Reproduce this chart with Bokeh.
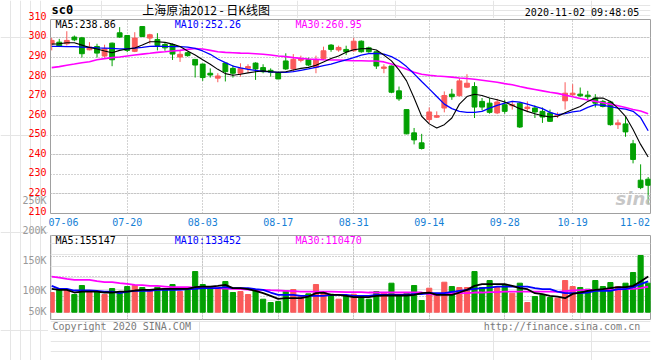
from bokeh.plotting import figure
from bokeh.models import Range1d, FixedTicker, Label, Grid, ColumnDataSource, CustomJSTickFormatter
from bokeh.layouts import column, row
from bokeh.embed import file_html
from bokeh.resources import INLINE

# ---------------- data ----------------
tick_idx = [0, 10, 20, 30, 40, 50, 60, 69, 79]
tick_labels = ["07-06", "07-20", "08-03", "08-17", "08-31", "09-14", "09-28", "10-19", "11-02"]
price_ticks = [210, 220, 230, 240, 250, 260, 270, 280, 290, 300, 310]

opens = [296.8, 297.6, 296.8, 300.2, 299.8, 293.7, 295.4, 290.5, 297.1, 302.4,
         301.0, 292.9, 305.6, 299.7, 299.0, 296.4, 296.4, 290.0, 292.2, 288.8,
         286.4, 281.7, 279.2, 286.9, 284.2, 281.7, 284.2, 286.9, 284.6, 283.2,
         282.0, 288.0, 283.9, 288.3, 288.8, 284.7, 289.3, 296.1, 293.6, 293.9,
         293.2, 298.1, 294.7, 292.7, 284.2, 285.4, 272.7, 263.1, 251.2, 246.1,
         258.0, 259.2, 263.9, 271.0, 270.2, 274.6, 274.9, 267.3, 266.4, 261.4,
         265.6, 265.1, 266.4, 263.6, 263.9, 262.2, 261.4, 260.0, 267.6, 270.7,
         271.0, 270.5, 269.0, 267.3, 267.0, 255.4, 255.8, 245.6, 227.0, 227.5]
highs = [299.8, 299.3, 303.2, 301.0, 300.3, 297.6, 296.8, 296.3, 297.4, 305.3,
         301.2, 302.7, 305.8, 301.9, 302.2, 297.5, 296.9, 293.7, 292.7, 288.8,
         286.6, 284.2, 281.7, 287.0, 285.9, 286.8, 286.3, 287.3, 286.3, 284.2,
         282.5, 291.9, 291.5, 290.7, 289.7, 290.7, 295.3, 296.6, 295.8, 295.8,
         299.8, 298.5, 295.3, 292.9, 286.3, 285.6, 274.9, 263.1, 253.7, 250.7,
         264.2, 262.2, 272.4, 273.7, 279.2, 281.2, 277.1, 269.0, 269.0, 268.6,
         268.1, 267.6, 266.9, 267.3, 265.3, 264.2, 263.1, 261.7, 277.1, 276.1,
         274.4, 272.7, 271.0, 268.1, 267.6, 258.0, 259.3, 247.6, 235.1, 228.6]
lows = [293.4, 295.1, 295.9, 298.1, 289.7, 293.4, 289.7, 289.7, 285.3, 299.8,
        292.5, 292.5, 300.2, 296.8, 293.4, 293.2, 288.5, 287.5, 290.2, 279.5,
        277.8, 279.5, 277.1, 277.5, 279.5, 280.0, 282.0, 278.3, 281.7, 280.0,
        278.6, 283.4, 282.5, 287.3, 285.4, 281.7, 288.5, 292.7, 292.7, 291.0,
        292.7, 292.2, 292.2, 283.9, 281.7, 271.5, 267.6, 250.5, 245.3, 242.7,
        256.3, 258.8, 261.7, 268.1, 269.8, 274.1, 258.8, 262.7, 261.0, 260.8,
        261.0, 263.1, 253.7, 261.7, 258.8, 256.3, 256.8, 258.8, 263.1, 269.5,
        269.5, 268.1, 264.2, 264.2, 254.9, 253.2, 249.2, 235.6, 222.4, 214.7]
closes = [298.5, 295.4, 298.5, 298.8, 291.7, 295.1, 292.0, 294.2, 288.6, 300.2,
          293.4, 299.7, 300.5, 301.4, 295.9, 294.7, 291.5, 291.4, 290.7, 285.9,
          279.5, 280.8, 280.3, 282.5, 281.7, 284.2, 285.1, 283.9, 282.5, 282.2,
          278.8, 283.9, 288.8, 289.0, 285.9, 288.6, 293.2, 293.9, 294.9, 292.7,
          298.1, 292.7, 292.7, 285.4, 284.9, 272.0, 268.6, 250.7, 247.6, 243.2,
          261.9, 260.0, 270.3, 269.7, 277.8, 276.6, 264.4, 264.4, 261.7, 267.0,
          262.2, 265.6, 254.2, 264.4, 261.9, 259.3, 257.1, 260.5, 271.5, 271.5,
          270.2, 269.7, 266.4, 264.7, 255.4, 256.3, 251.7, 237.6, 223.2, 224.4]

ma5 = [296.6, 296.8, 297.3, 297.3, 296.1, 294.9, 294.1, 293.1, 292.2, 293.4,
       294.1, 294.6, 296.1, 297.8, 297.8, 297.5, 296.6, 295.4, 293.1, 291.0,
       288.6, 286.3, 283.7, 281.5, 280.7, 281.2, 281.9, 282.5, 282.9, 282.5,
       282.2, 282.5, 283.4, 284.2, 284.7, 285.8, 287.5, 289.2, 290.5, 292.5,
       293.7, 294.2, 294.4, 293.6, 291.0, 288.0, 283.4, 277.8, 269.0, 259.7,
       255.8, 253.7, 255.4, 258.8, 265.9, 269.8, 271.0, 270.3, 269.0, 268.1,
       267.0, 265.3, 263.6, 262.2, 261.0, 260.0, 259.3, 259.7, 261.5, 263.2,
       264.7, 267.3, 269.0, 269.0, 267.3, 263.9, 259.7, 252.9, 245.3, 238.86]
ma10 = [295.4, 295.4, 295.3, 295.3, 295.1, 294.9, 294.7, 294.6, 294.4, 294.2,
        294.2, 294.6, 294.9, 295.4, 295.6, 295.4, 295.3, 295.3, 295.1, 294.4,
        293.1, 291.4, 289.0, 287.1, 285.4, 284.4, 283.7, 283.2, 282.7, 282.4,
        282.2, 282.2, 282.5, 283.2, 283.9, 284.7, 285.6, 286.4, 287.5, 288.6,
        289.7, 291.0, 291.7, 291.9, 291.5, 290.2, 288.1, 285.1, 281.4, 277.5,
        273.7, 269.8, 265.9, 263.6, 262.2, 261.7, 261.7, 262.2, 263.9, 265.3,
        266.4, 267.3, 266.9, 265.9, 264.7, 263.6, 261.7, 260.5, 261.0, 261.9,
        262.5, 264.2, 265.6, 265.3, 264.6, 263.9, 263.4, 262.2, 259.0, 252.26]
ma30 = [284.6, 285.1, 285.8, 286.4, 287.1, 287.6, 288.6, 289.2, 289.7, 290.0,
        290.5, 291.0, 291.5, 291.9, 292.4, 292.7, 293.1, 293.4, 293.9, 294.4,
        294.1, 293.4, 292.7, 292.4, 292.2, 292.0, 291.9, 291.7, 291.4, 291.0,
        290.5, 290.2, 289.7, 289.3, 289.0, 288.8, 288.6, 288.5, 288.5, 288.3,
        288.1, 288.1, 288.0, 288.0, 287.5, 286.4, 285.1, 283.7, 282.2, 281.2,
        280.7, 280.3, 280.0, 279.7, 279.3, 279.0, 278.6, 278.1, 277.6, 277.1,
        276.4, 275.8, 274.9, 274.1, 273.4, 272.7, 272.0, 271.4, 270.5, 269.7,
        268.8, 268.0, 267.3, 266.6, 265.9, 265.1, 264.2, 263.2, 262.4, 260.95]

volume = [85400, 97000, 97000, 76700, 115800, 86800, 86800, 76700, 102700, 82500,
          111400, 115800, 107100, 92600, 108500, 101300, 120100, 89700, 97000, 176500,
          120100, 105600, 102700, 133100, 85400, 89700, 76700, 97000, 56400, 42000,
          46300, 92600, 98400, 70900, 79600, 120100, 89700, 78100, 56400, 70900,
          78100, 68000, 56400, 89700, 82500, 125900, 72400, 82500, 115800, 50600,
          104200, 75200, 130200, 111400, 107100, 107100, 176500, 107100, 137500, 107100,
          115800, 82500, 125900, 42000, 68000, 75200, 63700, 60800, 137500, 111400,
          107100, 99800, 137500, 111400, 128800, 111400, 125900, 172200, 246000, 125900]
vol_ma5 = [101300, 97000, 97000, 85400, 89700, 89700, 89700, 85400, 85400, 89700,
           89700, 94100, 97000, 97000, 99800, 101300, 101300, 101300, 101300, 108500,
           111400, 111400, 114300, 118700, 104200, 104200, 99800, 92600, 82500, 70900,
           57900, 60800, 60800, 60800, 68000, 82500, 85400, 75200, 75200, 70900,
           65100, 65100, 65100, 70900, 72400, 72400, 72400, 72400, 75200, 82500,
           85400, 75200, 75200, 75200, 85400, 97000, 114300, 121500, 121500, 121500,
           121500, 114300, 104200, 99800, 82500, 78100, 70900, 68000, 60800, 79600,
           85400, 92600, 97000, 99800, 104200, 108500, 108500, 114300, 133100, 155147]
vol_ma10 = [114300, 101300, 101300, 94100, 94100, 94100, 92600, 89700, 89700, 82500,
            89700, 92600, 92600, 92600, 97000, 97000, 97000, 97000, 99800, 101300,
            104200, 104200, 104200, 108500, 104200, 104200, 104200, 99800, 97000, 85400,
            75200, 75200, 75200, 70900, 70900, 70900, 70900, 75200, 75200, 75200,
            70900, 70900, 70900, 75200, 75200, 75200, 75200, 75200, 78100, 78100,
            82500, 82500, 82500, 88300, 92600, 97000, 101300, 104200, 107100, 111400,
            111400, 111400, 111400, 111400, 104200, 99800, 99800, 89700, 82500, 82500,
            82500, 85400, 92600, 92600, 92600, 99800, 99800, 108500, 121500, 133452]
vol_ma30 = [154800, 150500, 144700, 140400, 140400, 140400, 134600, 130200, 130200, 125900,
            123000, 118700, 117200, 114300, 114300, 111400, 108500, 108500, 108500, 107100,
            105600, 104200, 104200, 102700, 101300, 99800, 98400, 97000, 97000, 95500,
            94100, 92600, 91200, 89700, 89700, 89700, 89700, 89700, 88300, 86800,
            86800, 86800, 85400, 85400, 85400, 85400, 85400, 85400, 85400, 85400,
            78100, 75200, 82500, 82500, 82500, 82500, 85400, 85400, 86800, 86800,
            89700, 89700, 89700, 89700, 89700, 89700, 89700, 88300, 91200, 94100,
            95500, 97000, 97000, 97000, 97000, 98400, 99800, 101300, 104200, 110470]
vol_axis_labels = ["250K", "200K", "150K", "100K", "50K"]

# ---------------- styles / layout constants (page pixels) ----------------
RED = "#fa5a5a"
GREEN = "#02a002"
GRID = "#a6a6a6"
BORDER = "#a0a0a0"
MONO = "DejaVu Sans Mono"
FS = "10px"

LEFT_W = 48                 # left label strip width
MAIN_W = 660 - LEFT_W
HEAD_H = 18
FRAME_L, FRAME_R = 50, 650
P_TOP, P_BOT = 19, 213
V_TOP, V_BOT = 234, 318
X0, X1 = -0.16, 79.31
PY0, PY1 = 209.95, 309.2
S_P = (P_BOT - P_TOP) / (PY1 - PY0)        # px per price unit
VOL_PER_PX = 4340.5
VOL_ZERO_PY = 310.7
VY1 = (VOL_ZERO_PY - V_TOP) * VOL_PER_PX
VY0 = -(V_BOT - VOL_ZERO_PY) * VOL_PER_PX


def fx(px):
    return X0 + (px - FRAME_L) * (X1 - X0) / (FRAME_R - FRAME_L)


def fy(py):
    return PY1 - (py - P_TOP) / S_P


def vy(py):
    return VY1 - (py - V_TOP) * VOL_PER_PX


def add_text(fig, x, y, text, color, size=FS, align="left", font=MONO, style="normal",
             alpha=1.0, y_offset=0):
    fig.add_layout(Label(x=x, y=y, text=text, text_color=color, text_font_size=size,
                         text_align=align, text_baseline="middle", text_font=font,
                         text_font_style=style, text_alpha=alpha, y_offset=y_offset))


def bare(fig):
    fig.background_fill_color = "white"
    fig.border_fill_color = "white"
    fig.outline_line_color = None
    return fig


n = len(closes)
idx = list(range(n))
colors = [RED if c >= o else GREEN for o, c in zip(opens, closes)]
body_bot = [min(o, c) for o, c in zip(opens, closes)]
body_top = [max(max(o, c), b + 0.5) for o, c, b in zip(opens, closes, body_bot)]

src = ColumnDataSource(dict(x=idx, o=opens, h=highs, l=lows, c=closes, top=body_top, bot=body_bot,
                            color=colors, ma5=ma5, ma10=ma10, ma30=ma30, vol=volume,
                            vma5=vol_ma5, vma10=vol_ma10, vma30=vol_ma30))

# ---------------- left label strip (price scale + volume labels) ----------------
L = bare(figure(width=LEFT_W, height=360, x_range=Range1d(0, LEFT_W), y_range=Range1d(fy(360), fy(0)),
                output_backend="svg", toolbar_location=None, x_axis_location=None,
                y_axis_location=None, min_border=0))
for t in price_ticks:
    add_text(L, 46, t, str(t), "#ff0000", align="right", y_offset=2)
for lab, py in zip(vol_axis_labels, [200.3, 230.3, 260.3, 290.3, 310.7]):
    add_text(L, 46, fy(py), lab, "#999999", align="right")

# ---------------- header ----------------
H = bare(figure(width=MAIN_W, height=HEAD_H, x_range=Range1d(LEFT_W, 660), y_range=Range1d(HEAD_H, 0),
                output_backend="svg", toolbar_location=None, x_axis_location=None,
                y_axis_location=None, min_border=0))
add_text(H, 49, 9.6, "sc0", "#000000", size="12px", style="bold")
add_text(H, 141.5, 9.3, "上海原油2012 - 日K线图", "#000000", size="12px", font="Noto Sans CJK SC")
add_text(H, 648.5, 11.8, "2020-11-02 09:48:05", "#000000", align="right")

# ---------------- price panel ----------------
H1 = V_TOP - HEAD_H
p = figure(width=MAIN_W, height=H1, x_range=Range1d(X0, X1), y_range=Range1d(PY0, PY1),
           output_backend="svg", toolbar_location=None, y_axis_location=None,
           min_border=0, min_border_left=FRAME_L - LEFT_W, min_border_right=660 - FRAME_R,
           min_border_top=P_TOP - HEAD_H, min_border_bottom=H1 - (P_TOP - HEAD_H) - (P_BOT - P_TOP))
p.background_fill_color = "white"
p.border_fill_color = "white"
p.outline_line_color = BORDER
p.outline_line_width = 1

label_ticks = tick_idx[:-1] + [fx(634.5)]
p.xaxis.ticker = FixedTicker(ticks=label_ticks)
p.xaxis.formatter = CustomJSTickFormatter(args=dict(pos=label_ticks, labels=tick_labels), code="""
    for (let i = 0; i < pos.length; i++) { if (Math.abs(pos[i] - tick) < 1e-6) return labels[i]; }
    return "";
""")
p.xaxis.axis_line_color = None
p.xaxis.major_tick_line_color = None
p.xaxis.minor_tick_line_color = None
p.xaxis.major_tick_out = 0
p.xaxis.major_tick_in = 0
p.xaxis.minor_tick_out = 0
p.xaxis.major_label_standoff = 4
p.xaxis.major_label_text_font = MONO
p.xaxis.major_label_text_font_size = FS
p.xaxis.major_label_text_color = "#1580d6"

p.xgrid.ticker = FixedTicker(ticks=tick_idx[1:-1])
p.xgrid.grid_line_color = GRID
p.xgrid.grid_line_dash = "1 2"
p.add_layout(Grid(dimension=1, ticker=FixedTicker(ticks=price_ticks[1:-1]), grid_line_color=GRID,
                  grid_line_dash="1 2"))

p.segment(x0="x", y0="h", x1="x", y1="l", color="color", line_width=1, source=src)
p.vbar(x="x", width=0.64, top="top", bottom="bot", fill_color="color", line_color="color",
       line_width=1, source=src)
p.line("x", "ma30", color="#ff00ff", line_width=1.6, source=src)
p.line("x", "ma10", color="#0000ff", line_width=1.3, source=src)
p.line("x", "ma5", color="#000000", line_width=1.1, source=src)

add_text(p, fx(55), fy(24.3), "MA5:%.2f" % ma5[-1], "#000000")
add_text(p, fx(174.3), fy(24.3), "MA10:%.2f" % ma10[-1], "#0000ff")
add_text(p, fx(295), fy(24.3), "MA30:%.2f" % ma30[-1], "#ff00ff")
add_text(p, fx(615), fy(198), "sina", "#bdbdbd", size="18px", font="DejaVu Sans", style="bold italic", alpha=0.85)

# ---------------- volume panel ----------------
v = figure(width=MAIN_W, height=(V_BOT - V_TOP) + 2, x_range=p.x_range, y_range=Range1d(VY0, VY1),
           output_backend="svg", toolbar_location=None,
           x_axis_location=None, y_axis_location=None, min_border=0,
           min_border_left=FRAME_L - LEFT_W, min_border_right=660 - FRAME_R,
           min_border_top=1, min_border_bottom=1)
v.background_fill_color = "white"
v.border_fill_color = "white"
v.outline_line_color = BORDER
v.outline_line_width = 1
v.add_layout(Grid(dimension=0, ticker=FixedTicker(ticks=tick_idx[1:-1]), grid_line_color=GRID,
                  grid_line_dash="1 2"))
v.add_layout(Grid(dimension=1, ticker=FixedTicker(ticks=[vy(255), vy(275), vy(295)]),
                  grid_line_color=GRID, grid_line_dash="1 2"))

v.vbar(x="x", width=0.68, top="vol", bottom=0, fill_color="color", line_color="color",
       line_width=1, source=src)
v.line("x", "vma30", color="#ff00ff", line_width=1.8, source=src)
v.line("x", "vma10", color="#0000ff", line_width=1.8, source=src)
v.line("x", "vma5", color="#000000", line_width=1.8, source=src)

add_text(v, fx(55), vy(238.5), "MA5:%d" % vol_ma5[-1], "#000000")
add_text(v, fx(174.3), vy(238.5), "MA10:%d" % vol_ma10[-1], "#0000ff")
add_text(v, fx(295), vy(238.5), "MA30:%d" % vol_ma30[-1], "#ff00ff")

# ---------------- footer ----------------
F_TOP = V_BOT + 1
F = bare(figure(width=MAIN_W, height=360 - F_TOP, x_range=Range1d(LEFT_W, 660),
                y_range=Range1d(360, F_TOP), output_backend="svg", toolbar_location=None,
                x_axis_location=None, y_axis_location=None, min_border=0))
add_text(F, 50, 324.5, "Copyright 2020 SINA.COM", "#7a7a7a")
add_text(F, 649.5, 324.5, "http://finance.sina.com.cn", "#7a7a7a", align="right")

layout = row(L, column(H, p, v, F, spacing=0), spacing=0)
open("out.html", "w").write(file_html(layout, INLINE))
